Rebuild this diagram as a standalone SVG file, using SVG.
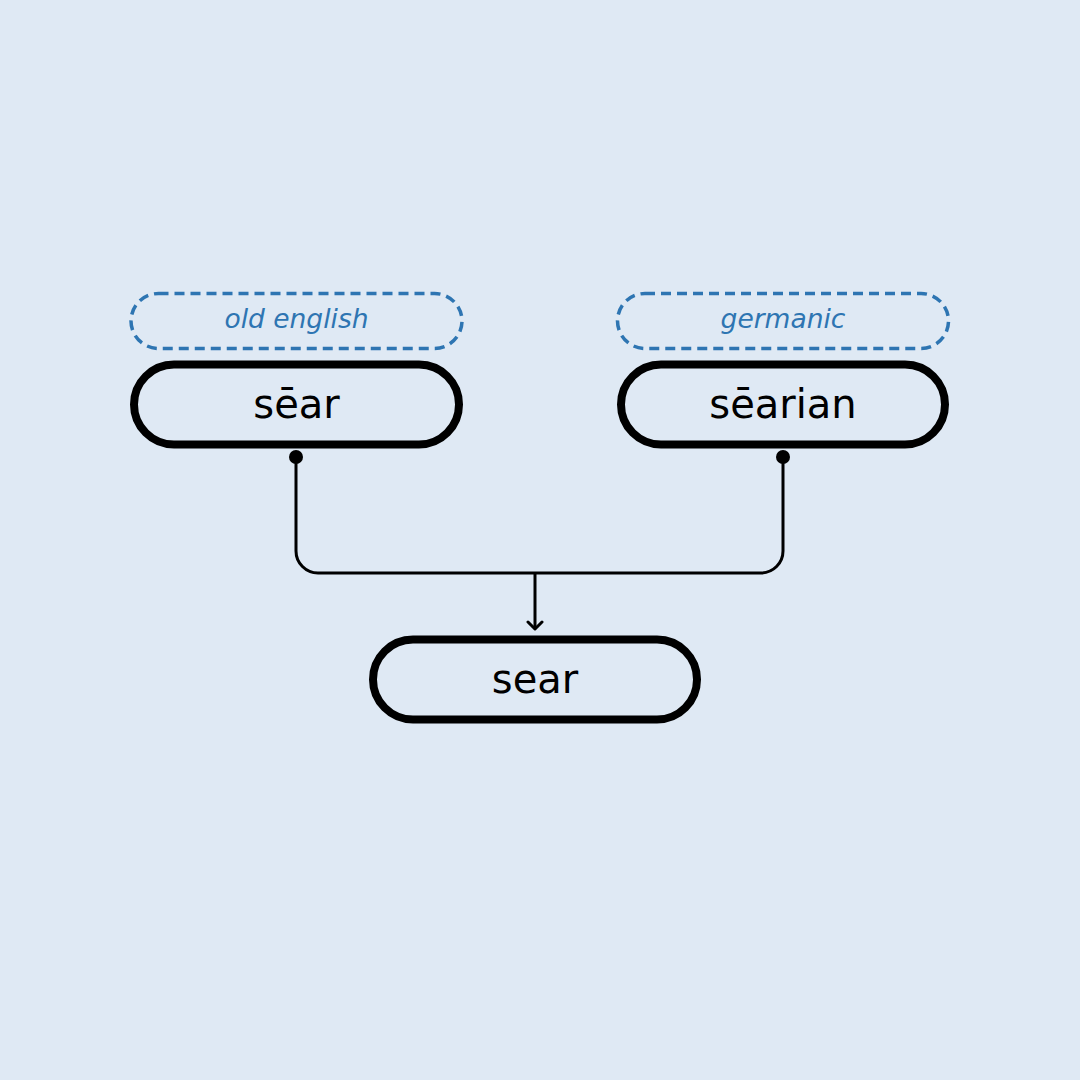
<svg xmlns="http://www.w3.org/2000/svg" width="1080" height="1080" viewBox="0 0 1080 1080">
<style>
.node{fill:#dfe9f4;stroke:#000;stroke-width:8}
.tag{fill:none;stroke:#2e75b2;stroke-width:3.5;stroke-dasharray:10 6}
.lbl{font-family:"DejaVu Sans",sans-serif;font-size:40px;fill:#000;text-anchor:middle}
.tagt{font-family:"DejaVu Sans",sans-serif;font-style:italic;font-size:26.5px;fill:#2e75b2;text-anchor:middle}
.conn{fill:none;stroke:#000;stroke-width:3}
</style>
<defs>
<marker id="arr" viewBox="0 0 12 18" refX="9.5" refY="9" markerWidth="12" markerHeight="18" markerUnits="userSpaceOnUse" orient="auto">
<path d="M2.5 2 L9.5 9 L2.5 16" fill="none" stroke="#000" stroke-width="3" stroke-linecap="round" stroke-linejoin="round"/>
</marker>
</defs>
<rect width="1080" height="1080" fill="#dfe9f4"/>
<g id="connectors">
<path class="conn" d="M296 457 V551 A22 22 0 0 0 318 573 H761 A22 22 0 0 0 783 551 V457"/>
<path class="conn" d="M535 573 V629" marker-end="url(#arr)"/>
<circle cx="296" cy="457" r="7" fill="#000"/>
<circle cx="783" cy="457" r="7" fill="#000"/>
</g>
<g id="tag-old-english">
<rect class="tag" x="131" y="293.5" width="331" height="55" rx="27.5"/>
<text class="tagt" x="296.5" y="328">old english</text>
</g>
<g id="tag-germanic">
<rect class="tag" x="617.5" y="293.5" width="331" height="55" rx="27.5"/>
<text class="tagt" x="783" y="328">germanic</text>
</g>
<g id="node-sear-oe">
<rect class="node" x="134" y="364.5" width="325" height="80" rx="40"/>
<text class="lbl" x="296.5" y="418">sēar</text>
</g>
<g id="node-searian">
<rect class="node" x="621" y="364.5" width="324" height="80" rx="40"/>
<text class="lbl" x="783" y="418">sēarian</text>
</g>
<g id="node-sear">
<rect class="node" x="373" y="639.5" width="324" height="80" rx="40"/>
<text class="lbl" x="535" y="693">sear</text>
</g>
</svg>
